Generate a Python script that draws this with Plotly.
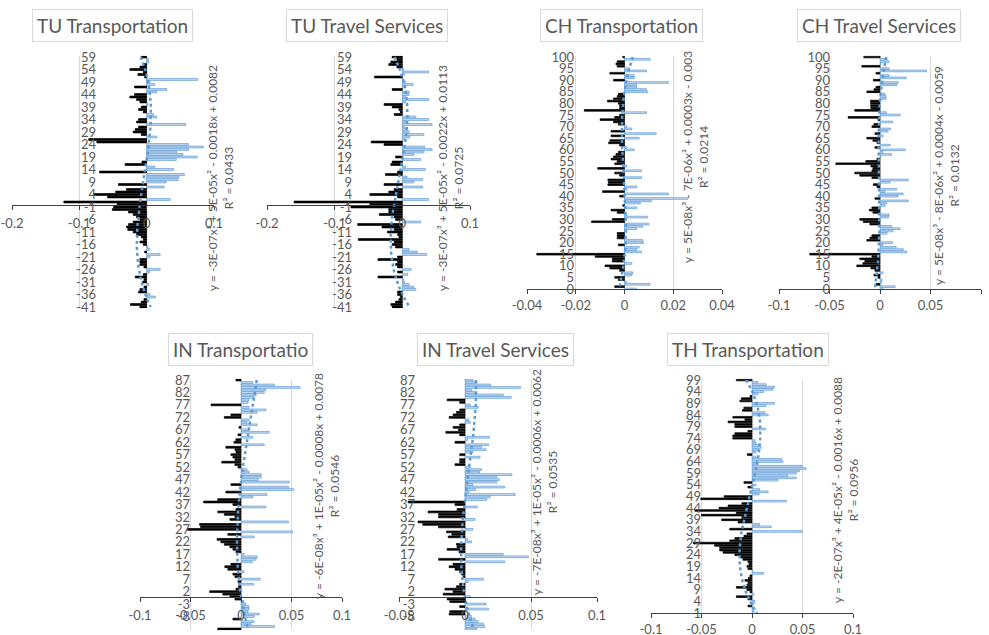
import numpy as np
import plotly.graph_objects as go

W, H = 989, 635
FONT = "Lato"
GRAY = "#595959"
BLUE = "#5B9BD5"
PALE = "#C9DCF1"

# ---------------- data (categories listed from top to bottom) ----------------
tu_cats = list(range(59, -42, -1))
ch_cats = list(range(100, -1, -1))
in_cats = list(range(87, -14, -1))
th_cats = list(range(99, -2, -1))

tu_transport = [
    -0.008, 0.003, 0.003, -0.004, -0.01, -0.025, -0.005, -0.013, -0.003, 0.076,
    0.005, 0.012, -0.018, 0.03, 0.015, -0.018, -0.025, -0.015, -0.01, 0.002,
    -0.008, -0.012, -0.005, 0.01, 0.015, -0.012, -0.015, 0.058, -0.012, -0.017,
    -0.02, -0.008, 0.015, -0.086, -0.074, 0.062, 0.084, 0.062, 0.045, 0.054,
    0.075, 0.044, -0.007, -0.032, 0.012, 0.04, -0.07, 0.056, 0.048, 0.047,
    0.029, -0.042, 0.026, -0.03, -0.046, -0.079, -0.058, 0.035, -0.123, -0.044,
    -0.049, -0.051, -0.027, -0.02, -0.015, -0.01, -0.02, -0.027, -0.03, -0.028,
    -0.02, -0.015, -0.008, -0.005, -0.01, -0.005, 0.002, 0.005, -0.003, 0.02,
    0.005, -0.01, -0.01, -0.01, -0.004, 0.02, 0.004, -0.005, -0.017, -0.004,
    -0.006, 0.003, -0.004, -0.01, -0.012, 0.005, 0.013, -0.004, -0.008, -0.024,
    -0.01]

tu_travel = [
    -0.015, -0.008, -0.017, -0.02, -0.008, 0.002, 0.039, 0.003, -0.041, 0.002,
    0.005, 0.016, 0.005, -0.015, 0.01, 0.01, 0.005, 0.039, 0.005, -0.027,
    -0.015, -0.005, -0.003, -0.012, 0.02, 0.039, 0.005, 0.044, 0.003, 0.008,
    0.01, 0.032, 0.011, 0.003, -0.046, -0.027, 0.033, 0.044, 0.032, 0.017,
    -0.01, 0.027, -0.015, -0.017, 0.005, 0.034, -0.007, -0.025, 0.007, 0.03,
    0.017, -0.027, 0.03, -0.012, -0.02, -0.048, -0.007, 0.039, -0.16, -0.048,
    -0.076, -0.02, -0.02, -0.034, -0.012, -0.01, 0.027, -0.066, -0.03, -0.012,
    -0.022, -0.007, -0.005, -0.065, -0.012, -0.015, -0.01, 0.01, 0.022, 0.036,
    -0.007, -0.036, -0.007, -0.01, -0.007, 0.013, -0.007, 0.008, -0.036, 0.002,
    0.003, 0.01, 0.017, 0.02, -0.007, -0.007, -0.003, -0.005, -0.01, -0.017,
    -0.015]

ch_transport = [
    -0.0007, 0.0105, -0.003, -0.0035, -0.003, 0.002, 0.009, -0.006, 0.004, 0.004,
    -0.0045, 0.018, 0.005, 0.005, 0.009, 0.0095, -0.0025, -0.003, -0.0045, -0.007,
    -0.0025, -0.002, -0.002, -0.0165, 0.009, -0.002, -0.004, -0.010, -0.0045, -0.0025,
    0.001, 0.003, -0.0055, 0.013, -0.0055, 0.006, -0.006, -0.0065, -0.002, 0.001,
    0.004, -0.0025, -0.0035, -0.0045, -0.0055, -0.003, -0.004, 0.001, -0.011, 0.007,
    -0.004, -0.002, 0.007, -0.0068, -0.0066, -0.0068, 0.005, 0.001, -0.009, 0.018,
    -0.002, 0.026, 0.011, 0.0065, -0.0007, 0.005, -0.0055, -0.003, 0.001, 0.0095,
    -0.005, -0.0135, 0.01, 0.0075, 0.005, 0.001, -0.003, -0.003, -0.003, 0.0075,
    0.0078, -0.0025, 0.006, 0.005, 0.007, -0.036, -0.012, -0.005, -0.005, 0.003,
    -0.008, -0.006, -0.002, 0.0035, 0.003, -0.004, -0.0025, 0.001, 0.0105, -0.004,
    0.005]

ch_travel = [
    -0.016, 0.007, 0.009, 0.001, -0.018, 0.009, 0.046, -0.004, 0.009, 0.026,
    -0.0066, 0.018, 0.0165, -0.004, -0.006, -0.013, 0.005, 0.006, 0.006, -0.0095,
    -0.0093, -0.0093, -0.009, -0.025, 0.0066, 0.02, -0.0315, -0.002, 0.0125, -0.006,
    -0.008, 0.0105, 0.008, -0.005, 0.003, -0.013, -0.007, -0.003, 0.01, -0.005,
    0.025, 0.003, 0.0115, 0.001, -0.003, -0.014, -0.0437, -0.009, -0.007, -0.008,
    -0.025, -0.02, -0.008, 0.028, 0.01, -0.0066, -0.003, 0.0165, 0.005, 0.023,
    0.018, -0.005, 0.028, 0.0066, 0.005, -0.008, -0.0106, -0.007, 0.009, 0.0085,
    -0.02, -0.0165, -0.01, 0.0115, 0.02, 0.013, 0.007, -0.008, -0.01, -0.013,
    0.0125, 0.003, 0.016, 0.023, 0.0265, -0.0695, -0.008, -0.02, -0.015, -0.017,
    -0.023, -0.009, -0.005, 0.003, -0.006, -0.002, 0.002, 0.002, -0.004, 0.015,
    0.003]

in_transport = [
    -0.005, 0.0115, 0.033, 0.0585, 0.0247, 0.023, 0.015, 0.013, 0.008, 0.007,
    -0.0296, 0.008, 0.0247, 0.016, -0.01, -0.0165, 0.008, 0.006, 0.016, -0.002,
    0.008, 0.028, -0.003, 0.0115, -0.005, -0.007, 0.023, -0.015, -0.006, -0.005,
    -0.01, -0.008, -0.006, -0.019, -0.006, -0.003, 0.006, 0.008, 0.02, 0.02,
    0.017, 0.0477, -0.01, 0.047, 0.052, -0.015, 0.0257, 0.0115, -0.023, -0.037,
    -0.008, 0.0247, -0.005, -0.023, -0.0165, -0.006, -0.011, 0.047, -0.041, -0.04,
    -0.053, 0.051, -0.013, 0.013, -0.0237, -0.02, -0.0165, -0.011, -0.008, -0.005,
    0.003, 0.016, 0.015, 0.011, -0.01, -0.016, -0.013, 0.003, -0.008, -0.006,
    0.019, -0.003, 0.0125, -0.0025, -0.005, -0.031, -0.018, -0.011, -0.006, 0.003,
    0.005, 0.008, 0.008, 0.007, 0.018, 0.013, -0.008, 0.013, 0.01, 0.033,
    -0.023]

in_travel = [
    0.006, 0.009, 0.0195, 0.042, 0.005, 0.009, 0.029, 0.035, -0.0135, -0.004,
    0.004, 0.01, -0.004, -0.0065, -0.009, -0.012, 0.003, 0.004, -0.004, -0.009,
    -0.005, -0.0145, -0.004, 0.0185, 0.002, -0.0076, 0.0178, 0.0127, 0.016, 0.006,
    -0.004, 0.0114, -0.004, -0.004, -0.0076, 0.004, 0.0127, 0.011, 0.0356, 0.024,
    0.026, 0.024, 0.006, 0.03, 0.008, 0.003, 0.038, 0.019, 0.0165, -0.043,
    -0.0076, 0.0094, -0.006, -0.028, -0.02, -0.02, 0.0076, -0.0356, -0.032, -0.02,
    0.006, -0.014, -0.01, -0.0127, 0.002, 0.005, -0.0065, -0.006, -0.0135, -0.0045,
    0.029, 0.048, -0.02, 0.03, -0.009, -0.012, -0.0075, -0.004, -0.0025, -0.0013,
    0.014, 0.0025, -0.004, -0.0065, -0.0152, -0.009, -0.0165, 0.004, -0.0135, -0.0115,
    0.016, -0.004, 0.0178, -0.0115, -0.012, 0.005, 0.0076, 0.01, 0.014, 0.015,
    0.009]

th_transport = [
    -0.0155, 0.006, 0.014, 0.0224, 0.0207, 0.0115, 0.006, -0.002, -0.0105, -0.012,
    0.0224, 0.014, -0.008, -0.0095, 0.013, 0.016, -0.019, -0.007, -0.0237, -0.017,
    -0.017, 0.0135, -0.004, -0.017, -0.019, -0.019, 0.003, 0.004, 0.007, 0.009,
    0.006, 0.004, -0.0046, 0.004, 0.029, 0.0306, 0.006, 0.05, 0.0536, 0.047,
    0.0438, 0.0355, 0.0438, 0.0257, -0.008, 0.004, -0.004, 0.0076, 0.016, 0.007,
    -0.0276, -0.0507, 0.034, -0.01, -0.0237, -0.0326, -0.0566, -0.0155, -0.05, -0.01,
    -0.03, -0.0138, 0.0076, 0.019, -0.022, 0.0497, -0.005, -0.008, -0.017, -0.022,
    -0.058, -0.037, -0.032, -0.032, -0.0286, -0.017, -0.012, -0.009, -0.004, -0.003,
    -0.005, -0.004, 0.001, 0.0115, -0.002, -0.0035, -0.007, -0.004, -0.005, -0.0155,
    -0.005, -0.002, 0.002, -0.0155, -0.004, 0.003, 0.002, -0.004, 0.001, 0.002,
    0.001]

titles = ["TU Transportation", "TU Travel Services", "CH Transportation",
          "CH Travel Services", "IN Transportatio", "IN Travel Services",
          "TH Transportation"]

equations = [
    ("y = -3E-07x³ + 5E-05x² - 0.0018x + 0.0082", "R² = 0.0433"),
    ("y = -3E-07x³ + 5E-05x² - 0.0022x + 0.0113", "R² = 0.0725"),
    ("y = 5E-08x³ - 7E-06x² + 0.0003x - 0.003", "R² = 0.0214"),
    ("y = 5E-08x³ - 8E-06x² + 0.0004x - 0.0059", "R² = 0.0132"),
    ("y = -6E-08x³ + 1E-05x² - 0.0008x + 0.0078", "R² = 0.0546"),
    ("y = -7E-08x³ + 1E-05x² - 0.0006x + 0.0062", "R² = 0.0535"),
    ("y = -2E-07x³ + 4E-05x² - 0.0016x + 0.0088", "R² = 0.0956"),
]

xticks_tu = [-0.2, -0.1, 0, 0.1]
xticks_tu_text = ["-0.2", "-0.1", "0", "0.1"]
xticks_ch1 = [-0.04, -0.02, 0, 0.02, 0.04]
xticks_ch1_text = ["-0.04", "-0.02", "0", "0.02", "0.04"]
xticks_wide = [-0.1, -0.05, 0, 0.05, 0.1]
xticks_wide_text = ["-0.1", "-0.05", "0", "0.05", "0.1"]
xticks_in2 = [-0.05, 0, 0.05, 0.1]
xticks_in2_text = ["-0.05", "0", "0.05", "0.1"]

series = [
    (tu_cats, tu_transport, xticks_tu, xticks_tu_text),
    (tu_cats, tu_travel, xticks_tu, xticks_tu_text),
    (ch_cats, ch_transport, xticks_ch1, xticks_ch1_text),
    (ch_cats, ch_travel, xticks_wide, xticks_wide_text),
    (in_cats, in_transport, xticks_wide, xticks_wide_text),
    (in_cats, in_travel, xticks_in2, xticks_in2_text),
    (th_cats, th_transport, xticks_wide, xticks_wide_text),
]

# ---------------- layout geometry (pixels) ----------------
geo = [
    dict(xpx=(12, 214), ypx=(57, 307), labx=94, cross=0, sto=3, eq=(220, 178), tt=(112, 25)),
    dict(xpx=(267, 470), ypx=(57, 307), labx=350, cross=0, sto=3, eq=(450, 178), tt=(367, 25)),
    dict(xpx=(527, 722), ypx=(57, 289), labx=572, cross=0, sto=0, eq=(695, 157), tt=(621, 25)),
    dict(xpx=(779, 981), ypx=(57, 289), labx=828, cross=0, sto=0, eq=(946, 176), tt=(879, 26)),
    dict(xpx=(140, 342), ypx=(380, 629), labx=188, cross=0, sto=3, eq=(326, 486), tt=(240, 349)),
    dict(xpx=(399, 597), ypx=(380, 629), labx=413, cross=0, sto=3, eq=(544, 482), tt=(495, 349)),
    dict(xpx=(651, 853), ypx=(380, 613), labx=699, cross=-1, sto=0, eq=(845, 490), tt=(748, 349)),
]

fig = go.Figure()
layout = dict(width=W, height=H, margin=dict(l=0, r=0, t=0, b=0, autoexpand=False),
              paper_bgcolor="white", plot_bgcolor="white", showlegend=False,
              font=dict(family=FONT, color=GRAY), annotations=[])

for i, ((cats, vals, xt, xtt), g) in enumerate(zip(series, geo), start=1):
    sfx = "" if i == 1 else str(i)
    n = len(cats)
    ppc = (g["ypx"][1] - g["ypx"][0]) / (n - 1)
    top_px = g["ypx"][0] - ppc / 2
    bot_px = g["ypx"][1] + ppc / 2
    ydom = [1 - bot_px / H, 1 - top_px / H]
    xdom = [g["xpx"][0] / W, g["xpx"][1] / W]
    cross_px = g["ypx"][0] + (cats[0] - g["cross"]) * ppc
    xr = [xt[0], xt[-1]]

    fills = ["#000000" if v < 0 else PALE for v in vals]
    edges = ["#000000" if v < 0 else BLUE for v in vals]
    fig.add_trace(go.Bar(x=vals, y=cats, orientation="h", width=0.72,
                         marker=dict(color=fills, line=dict(color=edges, width=0.7)),
                         xaxis="x" + sfx, yaxis="y" + sfx, hoverinfo="x+y"))
    coef = np.polyfit(cats, vals, 3)
    fig.add_trace(go.Scatter(x=np.polyval(coef, cats), y=cats, mode="lines",
                             line=dict(color=BLUE, width=2.5, dash="dot"),
                             xaxis="x" + sfx, yaxis="y" + sfx, hoverinfo="skip"))

    layout["xaxis" + sfx] = dict(
        domain=xdom, range=xr, anchor="free", position=1 - cross_px / H,
        tickvals=xt, ticktext=xtt, showgrid=True, gridcolor="#D9D9D9", gridwidth=1,
        zeroline=False, showline=True, linecolor="#404040", linewidth=1,
        ticks="outside", ticklen=4, tickcolor="#404040", automargin=False,
        ticklabelstandoff=g["sto"],
        tickfont=dict(family=FONT, size=13, color=GRAY), fixedrange=True)
    layout["yaxis" + sfx] = dict(
        domain=ydom, range=[min(cats) - 0.5, max(cats) + 0.5], anchor="free",
        position=(g["labx"] + 2) / W, tickvals=cats[::5], automargin=False,
        ticktext=[str(c) for c in cats[::5]], showgrid=False, zeroline=False,
        showline=False, ticks="", tickfont=dict(family=FONT, size=13, color=GRAY),
        fixedrange=True)

    eq, r2 = equations[i - 1]
    layout["annotations"].append(dict(
        x=g["eq"][0] / W, y=1 - g["eq"][1] / H, xref="paper", yref="paper",
        xanchor="center", yanchor="middle",
        text=eq + "<br>" + r2, textangle=-90, showarrow=False, align="center",
        font=dict(family=FONT, size=12, color=GRAY)))
    layout["annotations"].append(dict(
        x=g["tt"][0] / W, y=1 - g["tt"][1] / H, xref="paper", yref="paper",
        xanchor="center", yanchor="middle",
        text=titles[i - 1], showarrow=False, bgcolor="white",
        bordercolor="#D9D9D9", borderwidth=1, borderpad=4,
        font=dict(family=FONT, size=19, color=GRAY)))

fig.update_layout(**layout)
fig.write_html("out.html", config={"displayModeBar": False},
               post_script="document.body.style.margin='0';")
